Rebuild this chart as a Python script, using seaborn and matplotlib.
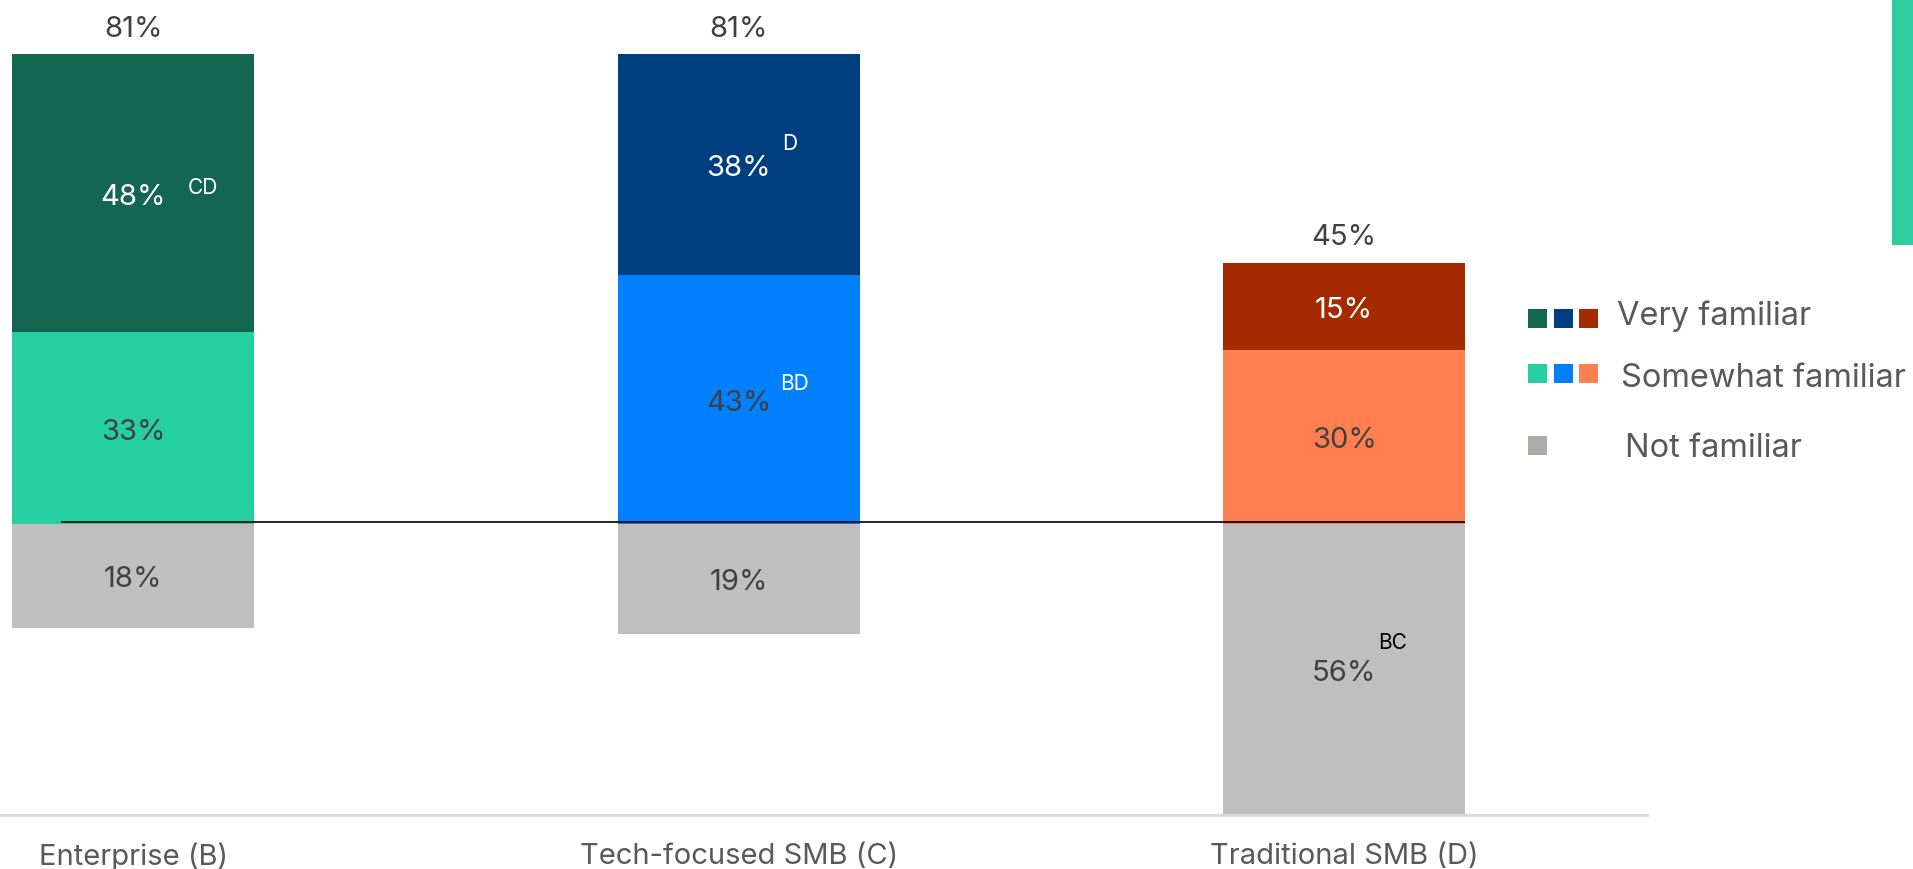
import matplotlib
matplotlib.use("Agg")
import matplotlib.pyplot as plt
import seaborn as sns
import pandas as pd
from matplotlib.patches import Rectangle

# Data
categories = ["Enterprise (B)", "Tech-focused SMB (C)", "Traditional SMB (D)"]
very_familiar = [48, 38, 15]
somewhat_familiar = [33, 43, 30]
not_familiar = [18, 19, 56]
very_sig = ["CD", "D", ""]
somewhat_sig = ["", "BD", ""]
not_sig = ["", "", "BC"]

very_colors = ["#136751", "#003F7F", "#A52A00"]
somewhat_colors = ["#26CFA2", "#0080FF", "#FF7F50"]
not_color = "#BFBFBF"

sns.set_theme(style="white")
plt.rcParams["font.family"] = ["Inter", "DejaVu Sans"]

df = pd.DataFrame({
    "category": categories,
    "total": [v + s for v, s in zip(very_familiar, somewhat_familiar)],
    "somewhat": somewhat_familiar,
    "not": [-n for n in not_familiar],
})

fig = plt.figure(figsize=(19.13, 8.69), dpi=100)
ax = fig.add_axes([0, 54 / 869, 1647 / 1913, 815 / 869])

# stacked bars: draw total first (very color), then somewhat on top
sns.barplot(data=df, x="category", y="total", hue="category",
            palette=very_colors, width=0.4, legend=False, ax=ax,
            linewidth=0, saturation=1)
sns.barplot(data=df, x="category", y="somewhat", hue="category",
            palette=somewhat_colors, width=0.4, legend=False, ax=ax,
            linewidth=0, saturation=1)
sns.barplot(data=df, x="category", y="not", color=not_color,
            width=0.4, ax=ax, linewidth=0, saturation=1)

ymin, ymax = -50.3, 90.4
ax.set_ylim(ymin, ymax)
ax.set_xlim(-0.22, 2.5)
ax.hlines(0.2, -0.12, 2.2, color="black", linewidth=1.2, zorder=5)

dark = "#404040"
label_fs = 21
sup_fs = 15
sup_offsets = {
    ("v", 0): (50, 4), ("v", 1): (37, 15),
    ("s", 1): (40, 11), ("n", 2): (35, 19),
}


def label(x, y, txt, color, dy=-3):
    ax.annotate(txt, (x, y), xytext=(0, dy), textcoords="offset points",
                ha="center", va="center", fontsize=label_fs, color=color)


def sup(x, y, txt, off, color):
    ax.annotate(txt, (x, y), xytext=off, textcoords="offset points",
                ha="center", va="center", fontsize=sup_fs, color=color)


for i in range(len(categories)):
    v, s, n = very_familiar[i], somewhat_familiar[i], not_familiar[i]
    tot = v + s
    label(i, tot, f"{tot}%", dark, dy=18)
    # very familiar
    yv = s + v / 2
    label(i, yv, f"{v}%", "white")
    if very_sig[i]:
        sup(i, yv, very_sig[i], sup_offsets[("v", i)], "white")
    # somewhat familiar
    ys = s / 2
    label(i, ys, f"{s}%", dark)
    if somewhat_sig[i]:
        sup(i, ys, somewhat_sig[i], sup_offsets[("s", i)], "white")
    # not familiar (centre of visible part)
    yn = max(-n, ymin) / 2
    label(i, yn, f"{n}%", dark)
    if not_sig[i]:
        sup(i, yn, not_sig[i], sup_offsets[("n", i)], "black")

# axes styling
for side in ["left", "right", "top"]:
    ax.spines[side].set_visible(False)
ax.spines["bottom"].set_color("#D9D9D9")
ax.spines["bottom"].set_linewidth(2)
ax.set_yticks([])
ax.set_xlabel("")
ax.set_ylabel("")
ax.tick_params(axis="x", length=0, pad=20, labelsize=21, labelcolor="#595959")

# legend drawn by hand
W, H = 1913, 869
sq = 19
rows = [
    ("Very familiar", very_colors, 318.5, 1617, 325),
    ("Somewhat familiar", somewhat_colors, 373.5, 1621, 387),
    ("Not familiar", [not_color], 445.5, 1625, 457),
]
for text, cols, yc, tx, tb in rows:
    for k, c in enumerate(cols):
        x0 = 1528 + k * 25.5
        if text == "Not familiar":
            c = "#ADAAA8"
        fig.add_artist(Rectangle((x0 / W, 1 - (yc + sq / 2) / H), sq / W, sq / H,
                                 transform=fig.transFigure, color=c, linewidth=0))
    fig.text(tx / W, 1 - tb / H, text, ha="left", va="baseline",
             fontsize=23.5, color="#595959")

# accent bar on right edge
fig.add_artist(Rectangle((1892 / W, 1 - 245 / H), 21 / W, 245 / H,
                         transform=fig.transFigure, color="#2ECC9F", linewidth=0))

fig.savefig("out.png", dpi=100)
